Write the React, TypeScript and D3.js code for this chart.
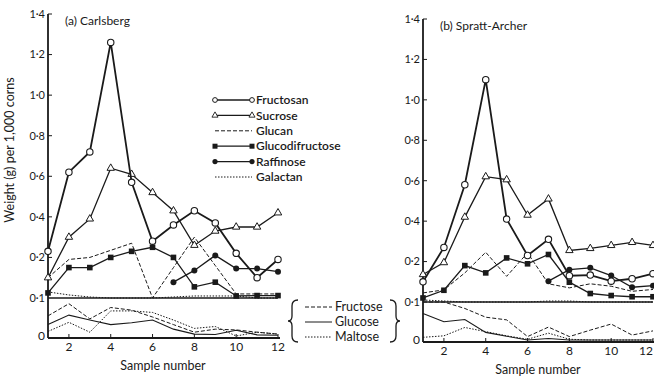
import * as d3 from 'd3';

// sample numbers along the x axis
const SAMPLES = [1, 2, 3, 4, 5, 6, 7, 8, 9, 10, 11, 12];
const X_TICKS = [2, 4, 6, 8, 10, 12];
const UPPER_TICKS = [0.2, 0.4, 0.6, 0.8, 1.0, 1.2, 1.4];

// (a) Carlsberg, upper scale (g per 1,000 corns)
const carlsbergFructosan = [0.23, 0.62, 0.72, 1.26, 0.57, 0.28, 0.36, 0.43, 0.37, 0.22, 0.10, 0.19];
const carlsbergSucrose = [0.10, 0.30, 0.39, 0.64, 0.61, 0.52, 0.43, 0.26, 0.33, 0.35, 0.35, 0.42];
const carlsbergGlucan = [0.10, 0.19, 0.20, 0.235, 0.27, 0.0, 0.15, 0.30, 0.16, 0.02, 0.02, 0.02];
const carlsbergGlucodifructose = [0.025, 0.15, 0.15, 0.20, 0.23, 0.25, 0.20, 0.055, 0.078, 0.01, 0.012, 0.012];
const carlsbergRaffinose = [null, null, null, null, null, null, 0.078, 0.136, 0.21, 0.145, 0.145, 0.13];
const carlsbergGalactan = [0.03, 0.015, 0.005, 0.0, 0.0, 0.0, 0.005, 0.01, 0.01, 0.01, 0.0, 0.0];
// (a) Carlsberg, lower scale
const carlsbergFructose = [0.053, 0.085, 0.045, 0.075, 0.068, 0.05, 0.03, 0.01, 0.018, 0.016, 0.01, 0.005];
const carlsbergGlucose = [0.03, 0.055, 0.042, 0.03, 0.035, 0.042, 0.018, 0.005, 0.004, 0.015, 0.003, 0.002];
const carlsbergMaltose = [0.012, 0.036, 0.01, 0.066, 0.066, 0.062, 0.042, 0.02, 0.025, 0.0, 0.01, 0.005];

// (b) Spratt-Archer, upper scale
const sprattFructosan = [0.10, 0.27, 0.58, 1.10, 0.41, 0.23, 0.31, 0.13, 0.133, 0.103, 0.115, 0.14];
const sprattSucrose = [0.136, 0.195, 0.42, 0.62, 0.605, 0.43, 0.51, 0.255, 0.265, 0.28, 0.295, 0.28];
const sprattGlucan = [0.045, 0.06, 0.144, 0.246, 0.127, 0.243, 0.09, 0.07, 0.09, 0.078, 0.053, 0.062];
const sprattGlucodifructose = [0.02, 0.058, 0.18, 0.144, 0.218, 0.189, 0.235, 0.098, 0.042, 0.032, 0.026, 0.026];
const sprattRaffinose = [null, null, null, null, null, null, 0.103, 0.16, 0.169, 0.131, 0.073, 0.081];
const sprattGalactan = [0.01, 0.005, 0.0, 0.0, 0.0, 0.0, 0.005, 0.005, 0.0, 0.0, 0.0, 0.0];
// (b) Spratt-Archer, lower scale
const sprattFructose = [0.1, 0.1, 0.083, 0.06, 0.053, 0.009, 0.034, 0.009, 0.026, 0.042, 0.013, 0.024];
const sprattGlucose = [0.07, 0.048, 0.054, 0.02, 0.01, 0.0, 0.004, 0.0, 0.0, 0.0, 0.0, 0.0];
const sprattMaltose = [0.007, 0.011, 0.033, 0.022, 0.011, 0.002, 0.018, 0.002, 0.0, 0.0, 0.0, 0.0];

const FONT = 'Lato, "Open Sans", sans-serif';
const INK = '#1a1a1a';
const WIDTH = 654;

const fmt = (v: number) => (v === 0 ? '0' : d3.format('.1f')(v).replace('.', '·'));

type Val = number | null;

function Series({ values, x, y, width = 1.3, dash, marker }: {
  values: Val[]; x: d3.ScaleLinear<number, number>; y: d3.ScaleLinear<number, number>;
  width?: number; dash?: string; marker?: 'circle' | 'dot' | 'square' | 'triangle';
}) {
  const line = d3.line<Val>()
    .defined(d => d !== null)
    .x((_, i) => x(SAMPLES[i]))
    .y(d => y(d as number));
  return (
    <g>
      <path d={line(values) || ''} fill="none" stroke={INK} strokeWidth={width} strokeDasharray={dash} />
      {marker && values.map((v, i) => {
        if (v === null) { return null; }
        const cx = x(SAMPLES[i]);
        const cy = y(v);
        if (marker === 'circle') {
          return <circle key={i} cx={cx} cy={cy} r={3.2} fill="#fff" stroke={INK} strokeWidth={1.1} />;
        }
        if (marker === 'dot') {
          return <circle key={i} cx={cx} cy={cy} r={3} fill={INK} />;
        }
        if (marker === 'square') {
          return <rect key={i} x={cx - 2.8} y={cy - 2.8} width={5.6} height={5.6} fill={INK} />;
        }
        return <path key={i} d={d3.symbol(d3.symbolTriangle, 24)() || ''} transform={`translate(${cx},${cy})`} fill="#fff" stroke={INK} strokeWidth={1} />;
      })}
    </g>
  );
}

function Panel({ left, right, top, breakY, zeroY, bottom, title, data }: {
  left: number; right: number; top: number; breakY: number; zeroY: number; bottom: number; title: string;
  data: { fructosan: Val[]; sucrose: Val[]; glucan: Val[]; glucodifructose: Val[]; raffinose: Val[]; galactan: Val[];
    fructose: Val[]; glucose: Val[]; maltose: Val[] };
}) {
  const x = d3.scaleLinear().domain([1, 12]).range([left, right]);
  const yU = d3.scaleLinear().domain([0, 1.4]).range([breakY, top]);
  const yL = d3.scaleLinear().domain([0, 0.1]).range([zeroY, breakY]);
  return (
    <g fontFamily={FONT} fill={INK}>
      {/* axes */}
      <line x1={left} x2={left} y1={top} y2={bottom} stroke={INK} strokeWidth={1.8} />
      <line x1={left} x2={right + 2} y1={bottom} y2={bottom} stroke={INK} strokeWidth={1.8} />
      <line x1={left} x2={right} y1={breakY} y2={breakY} stroke={INK} strokeWidth={1.3} />
      {UPPER_TICKS.map(t => (
        <g key={t}>
          <line x1={left} x2={left + 4} y1={yU(t)} y2={yU(t)} stroke={INK} strokeWidth={1} />
          <text x={left - 3} y={yU(t)} dy="0.35em" textAnchor="end" fontSize={11}>{fmt(t)}</text>
        </g>
      ))}
      <text x={left - 3} y={breakY} dy="0.35em" textAnchor="end" fontSize={11}>{fmt(0.1)}</text>
      <text x={left - 3} y={zeroY} dy="0.35em" textAnchor="end" fontSize={12}>{fmt(0)}</text>
      {X_TICKS.map(t => {
        // keep the last label inside the page edge
        const tx = Math.min(x(t), WIDTH - 8);
        return (
          <g key={t}>
            <line x1={x(t)} x2={x(t)} y1={bottom} y2={bottom - 4} stroke={INK} strokeWidth={1} />
            <text x={tx} y={bottom + 13} textAnchor="middle" fontSize={12}>{t}</text>
          </g>
        );
      })}
      <text x={(left + right) / 2} y={bottom + 32} textAnchor="middle" fontSize={12.5}>Sample number</text>
      <text x={left + 17} y={top + 11} fontSize={12}>{title}</text>

      {/* upper scale */}
      <Series values={data.galactan} x={x} y={yU} width={1} dash="1.5,1.5" />
      <Series values={data.glucan} x={x} y={yU} width={1} dash="4,2" />
      <Series values={data.raffinose} x={x} y={yU} marker="dot" />
      <Series values={data.glucodifructose} x={x} y={yU} marker="square" />
      <Series values={data.sucrose} x={x} y={yU} marker="triangle" />
      <Series values={data.fructosan} x={x} y={yU} width={1.8} marker="circle" />

      {/* lower scale */}
      <Series values={data.fructose} x={x} y={yL} width={1} dash="4,2" />
      <Series values={data.glucose} x={x} y={yL} width={1.1} />
      <Series values={data.maltose} x={x} y={yL} width={1} dash="1.5,1.5" />
    </g>
  );
}

const LEGEND = [
  { label: 'Fructosan', marker: 'circle', dash: undefined, width: 1.6 },
  { label: 'Sucrose', marker: 'triangle', dash: undefined, width: 1.2 },
  { label: 'Glucan', marker: undefined, dash: '4,2', width: 1 },
  { label: 'Glucodifructose', marker: 'square', dash: undefined, width: 1.3 },
  { label: 'Raffinose', marker: 'dot', dash: undefined, width: 1.3 },
  { label: 'Galactan', marker: undefined, dash: '1.5,1.5', width: 1 },
];
const LOWER_LEGEND = [
  { label: 'Fructose', dash: '4,2' },
  { label: 'Glucose', dash: undefined },
  { label: 'Maltose', dash: '1.5,1.5' },
];

function Legend() {
  const rowY = d3.scaleLinear().domain([0, 5]).range([100, 177]);
  const lowY = d3.scaleLinear().domain([0, 2]).range([307, 337]);
  return (
    <g fontFamily={FONT} fill={INK}>
      {LEGEND.map((d, i) => {
        const y = rowY(i);
        const x1 = 215;
        const x2 = 252;
        return (
          <g key={d.label}>
            <line x1={x1} x2={x2} y1={y} y2={y} stroke={INK} strokeWidth={d.width} strokeDasharray={d.dash} />
            {[x1, x2].map((cx, j) => {
              if (d.marker === 'circle') { return <circle key={j} cx={cx} cy={y} r={2.4} fill="#fff" stroke={INK} strokeWidth={1} />; }
              if (d.marker === 'dot') { return <circle key={j} cx={cx} cy={y} r={2.6} fill={INK} />; }
              if (d.marker === 'square') { return <rect key={j} x={cx - 2.5} y={y - 2.5} width={5} height={5} fill={INK} />; }
              if (d.marker === 'triangle') { return <path key={j} d={d3.symbol(d3.symbolTriangle, 16)() || ''} transform={`translate(${cx},${y})`} fill="#fff" stroke={INK} strokeWidth={0.9} />; }
              return null;
            })}
            <text x={x2 + 4} y={y} dy="0.35em" fontSize={12} fontWeight={600}>{d.label}</text>
          </g>
        );
      })}
      <path d="M298,300 Q292,300 292,306 L292,316 Q292,321 288,321 Q292,321 292,326 L292,336 Q292,342 298,342" fill="none" stroke={INK} strokeWidth={1.3} />
      {LOWER_LEGEND.map((d, i) => (
        <g key={d.label}>
          <line x1={305} x2={332} y1={lowY(i)} y2={lowY(i)} stroke={INK} strokeWidth={1} strokeDasharray={d.dash} />
          <text x={335} y={lowY(i)} dy="0.35em" fontSize={12.5}>{d.label}</text>
        </g>
      ))}
      <path d="M390,300 Q396,300 396,306 L396,316 Q396,321 400,321 Q396,321 396,326 L396,336 Q396,342 390,342" fill="none" stroke={INK} strokeWidth={1.3} />
    </g>
  );
}

export default function App() {
  return (
    <div style={{ position: 'fixed', left: 0, top: 0, width: WIDTH, height: 378, background: '#fff' }}>
      <svg width={WIDTH} height={378} style={{ display: 'block' }}>
        <rect width={WIDTH} height={378} fill="#fff" />
        <Panel
          left={48} right={278} top={14} breakY={298} zeroY={336} bottom={338}
          title="(a) Carlsberg"
          data={{
            fructosan: carlsbergFructosan, sucrose: carlsbergSucrose, glucan: carlsbergGlucan,
            glucodifructose: carlsbergGlucodifructose, raffinose: carlsbergRaffinose, galactan: carlsbergGalactan,
            fructose: carlsbergFructose, glucose: carlsbergGlucose, maltose: carlsbergMaltose,
          }}
        />
        <Panel
          left={423} right={653} top={19} breakY={302} zeroY={340} bottom={342}
          title="(b) Spratt-Archer"
          data={{
            fructosan: sprattFructosan, sucrose: sprattSucrose, glucan: sprattGlucan,
            glucodifructose: sprattGlucodifructose, raffinose: sprattRaffinose, galactan: sprattGalactan,
            fructose: sprattFructose, glucose: sprattGlucose, maltose: sprattMaltose,
          }}
        />
        <text transform="translate(14,150) rotate(-90)" textAnchor="middle" fontFamily={FONT} fontSize={12.5} fill={INK}>
          Weight (g) per 1,000 corns
        </text>
        <Legend />
      </svg>
    </div>
  );
}
